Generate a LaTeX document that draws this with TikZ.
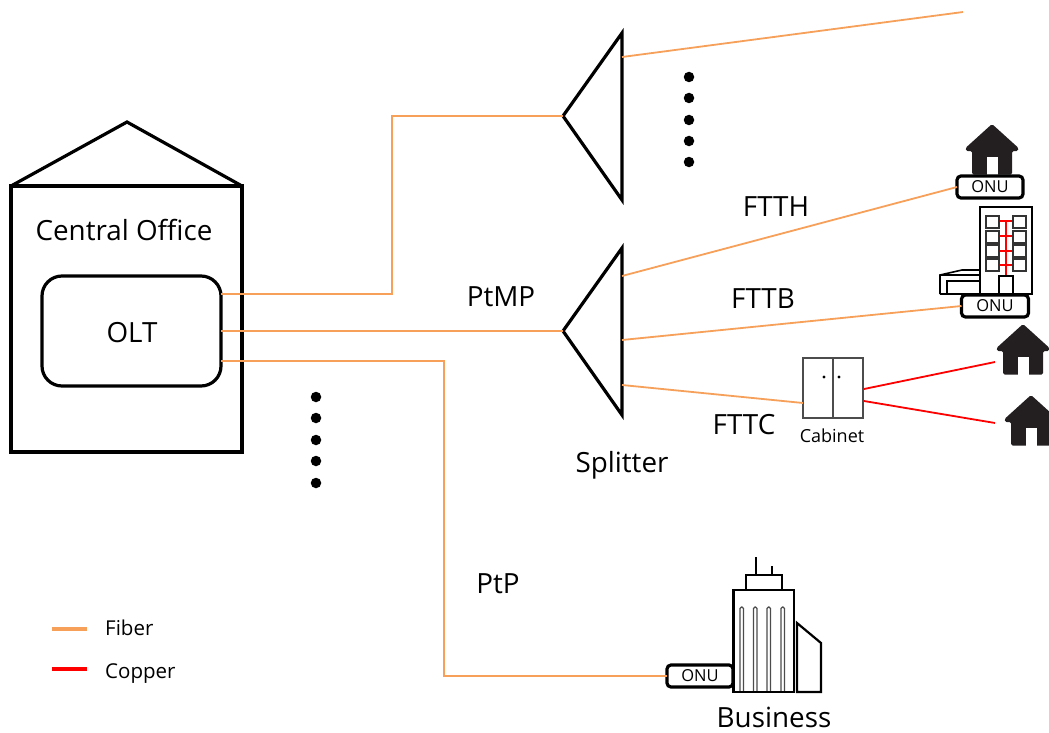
\documentclass[tikz,border=0pt]{standalone}
\usepackage{fontspec}
\setmainfont{Open Sans}
\definecolor{fiber}{HTML}{F7A05A}
\definecolor{copper}{HTML}{FF0000}
\definecolor{ink}{HTML}{231F20}
\tikzset{
  fib/.style={draw=fiber,line width=1.8pt},
  cop/.style={draw=copper,line width=1.8pt},
  outl/.style={draw=black,line width=3.2pt,line join=miter},
  onubox/.style={draw=black,line width=3.2pt,rounded corners=4pt,fill=white,inner sep=0pt,outer sep=0pt,font=\fontsize{16.5}{16.5}\selectfont},
  lbl/.style={inner sep=0pt,anchor=base,font=\fontsize{27.8}{27.8}\selectfont},
  leg/.style={inner sep=0pt,anchor=base west,font=\fontsize{20.5}{20.5}\selectfont},
  pics/homeicon/.style={code={
    \fill[ink,rounded corners=1.5pt]
      (0,-1) -- (26.5,23) -- (26,26) -- (20,26) -- (20,49.5) -- (-20,49.5) -- (-20,26) -- (-26,26) -- (-26.5,23) -- cycle;
    \fill[white] (-5.5,32) rectangle (5.5,50);
  }},
  dot/.style={circle,fill=black,inner sep=0pt,minimum size=10.5pt}
}
\begin{document}
\begin{tikzpicture}[x=1pt,y=-1pt]
\useasboundingbox (0,0) rectangle (1049,733);

% central office
\draw[outl] (11,186) -- (127,122) -- (242,186);
\node[outl,draw,outer sep=0pt,minimum width=231pt,minimum height=266pt,inner sep=0pt,anchor=north west] (co) at (11,186) {};
\node[lbl] (colabel) at (124,240) {Central Office};
\node[outl,draw,outer sep=0pt,rounded corners=20pt,minimum width=179pt,minimum height=110pt,inner sep=0pt,anchor=north west] (olt) at (42,276) {};
\node[lbl] (oltlabel) at (132,342) {OLT};
\coordinate (o1) at (221,294);
\coordinate (o2) at (221,331);
\coordinate (o3) at (221,361);

% splitters
\coordinate (s1t) at (563,116);
\coordinate (s1a) at (622,33);
\coordinate (s1b) at (622,200);
\coordinate (s1out) at (622,57);
\coordinate (s1end) at (963,12);
\draw[outl] (s1a) -- (s1t) -- (s1b) -- cycle;
\coordinate (s2t) at (563,331);
\coordinate (s2a) at (622,248);
\coordinate (s2b) at (622,415);
\coordinate (s2o1) at (622,276);
\coordinate (s2o2) at (622,340);
\coordinate (s2o3) at (622,385);
\draw[outl] (s2a) -- (s2t) -- (s2b) -- cycle;

% dots
\foreach \n/\y in {1/77,2/98,3/120,4/141,5/162} \node[dot] (da\n) at (689,\y) {};
\foreach \n/\y in {1/397,2/418,3/440,4/461,5/483} \node[dot] (db\n) at (316,\y) {};

% homes
\pic at (992,125) {homeicon};
\pic at (1023,325) {homeicon};
\pic at (1031,396) {homeicon};

% apartment building
\begin{scope}[draw=black,line width=1.6pt]
\draw (940,294) -- (940,275) -- (962,270) -- (980,270);
\draw (940,275) -- (980,275);
\draw (947,294) -- (947,281) -- (980,281);
\draw (940,294) -- (980,294);
\draw (980,207) rectangle (1032,294);
\draw[copper,line width=1.1pt] (1006,221) -- (1006,276);
\foreach \y in {221,236,251,265} \draw[copper,line width=1.1pt] (999,\y) -- (1013,\y);
\foreach \y in {216,231,245,259} {
  \draw[black!80] (986,\y) rectangle (999,\y+12);
  \draw[black!80] (1013,\y) rectangle (1026,\y+12);
}
\draw (999,294) -- (999,276) -- (1013,276) -- (1013,294);
\end{scope}

% cabinet
\node[draw=black!70,outer sep=0pt,line width=1.3pt,minimum width=60pt,minimum height=60pt,inner sep=0pt,anchor=north west] (cab) at (803,358) {};
\draw[black!70,line width=1.3pt] (cab.north) -- (cab.south);
\fill (824,377) circle (1.6pt) (839,377) circle (1.6pt);
\node[inner sep=0pt,anchor=base,font=\fontsize{18}{18}\selectfont] (cablabel) at (832,442) {Cabinet};
\coordinate (c1) at (864,389);
\coordinate (c2) at (864,401);
\coordinate (c3) at (803,403);
\coordinate (h2) at (995,362);
\coordinate (h3) at (995,423);

% business
\begin{scope}[draw=black,line width=2.2pt]
\draw[line width=1.2pt,black!70,rounded corners=1.5pt]
  (740,692) -- (740,607) -- (743.5,607) -- (743.5,692)
  (753.5,692) -- (753.5,607) -- (757,607) -- (757,692)
  (767,692) -- (767,607) -- (770.5,607) -- (770.5,692)
  (781,692) -- (781,607) -- (784.5,607) -- (784.5,692);
\draw (733.5,590) rectangle (794,692);
\draw (746,590) -- (746,575) -- (782,575) -- (782,590);
\draw (756,575) -- (756,557);
\draw (772,575) -- (772,566);
\draw (797,692) -- (797,623) -- (821,643) -- (821,692) -- cycle;
\end{scope}

% ONUs
\node[onubox,minimum width=66pt,minimum height=22pt] (onu1) at (990,187) {ONU};
\node[onubox,minimum width=67pt,minimum height=22pt] (onu2) at (995,306) {ONU};
\node[onubox,minimum width=66pt,minimum height=22pt] (onu3) at (700,676) {ONU};

% fibre
\draw[fib] (o1) -- (392,294) -- (392,116) -- (s1t);
\draw[fib] (o2) -- (s2t);
\draw[fib] (o3) -- (444,361) -- (444,676) -- (onu3.west);
\draw[fib] (s1out) -- (s1end);
\draw[fib] (s2o1) -- (onu1.west);
\draw[fib] (s2o2) -- (onu2.west);
\draw[fib] (s2o3) -- (c3);
% copper
\draw[cop] (c1) -- (h2);
\draw[cop] (c2) -- (h3);

% labels
\node[lbl] (ptmp) at (501,306) {PtMP};
\node[lbl] (ftth) at (776,216) {FTTH};
\node[lbl] (fttb) at (763,308) {FTTB};
\node[lbl] (fttc) at (744,434) {FTTC};
\node[lbl] (split) at (622,472) {Splitter};
\node[lbl] (ptp) at (498,593) {PtP};
\node[lbl] (bus) at (774,727) {Business};

% legend
\coordinate (lf1) at (52,629);
\coordinate (lf2) at (87,629);
\coordinate (lc1) at (52,669);
\coordinate (lc2) at (87,669);
\draw[draw=fiber,line width=4pt] (lf1) -- (lf2);
\draw[draw=copper,line width=4pt] (lc1) -- (lc2);
\node[leg] (lfiber) at (105,635) {Fiber};
\node[leg] (lcopper) at (105,678) {Copper};
\end{tikzpicture}
\end{document}
